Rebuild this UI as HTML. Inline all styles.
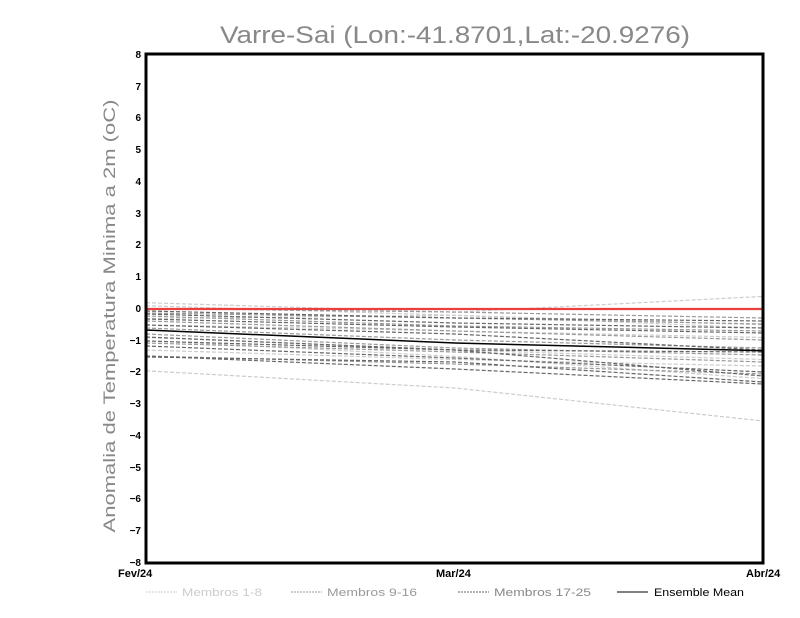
<!DOCTYPE html>
<html><head><style>body{margin:0;background:#fff}svg{display:block}</style></head><body>
<svg width="800" height="618" xmlns="http://www.w3.org/2000/svg" font-family="Liberation Sans, sans-serif">
<rect width="800" height="618" fill="#fff"/>
<text x="220" y="43" textLength="470" lengthAdjust="spacingAndGlyphs" font-size="24" fill="#888">Varre-Sai (Lon:-41.8701,Lat:-20.9276)</text>
<text transform="translate(115,316) rotate(-90)" text-anchor="middle" textLength="433" lengthAdjust="spacingAndGlyphs" font-size="17" fill="#888">Anomalia de Temperatura Minima a 2m (oC)</text>
<g fill="none" stroke-width="1.2" stroke-dasharray="4,2">
<g stroke="#ccc">
<polyline points="146,302.7 455,312.2 763,296.4"/>
<polyline points="146,370.8 455,388 763,421"/>
<polyline points="146,350 455,359.5 763,366"/>
<polyline points="146,318.5 455,315.3 763,324.8"/>
<polyline points="146,337.5 455,350 763,359.5"/>
<polyline points="146,324.8 455,331 763,337.5"/>
<polyline points="146,305.8 455,315.3 763,328"/>
<polyline points="146,340.5 455,356.4 763,378.6"/>
</g>
<g stroke="#999">
<polyline points="146,308.5 455,312 763,318"/>
<polyline points="146,313 455,318 763,324"/>
<polyline points="146,316 455,326 763,331"/>
<polyline points="146,321 455,331 763,340"/>
<polyline points="146,328 455,340 763,348"/>
<polyline points="146,334 455,348 763,355"/>
<polyline points="146,343 455,352 763,362"/>
<polyline points="146,356 455,364 763,374"/>
</g>
<g stroke="#666">
<polyline points="146,311 455,318 763,321"/>
<polyline points="146,314 455,323 763,328"/>
<polyline points="146,319 455,327 763,333"/>
<polyline points="146,325 455,334 763,350"/>
<polyline points="146,337 455,350 763,352"/>
<polyline points="146,341 455,350 763,376"/>
<polyline points="146,346 455,358 763,372"/>
<polyline points="146,357 455,362 763,382"/>
<polyline points="146,356 455,369 763,384"/>
</g>
</g>
<polyline points="146,330 455,343 763,350.7" fill="none" stroke="#000" stroke-width="1.5"/>
<line x1="146" y1="309" x2="763" y2="309" stroke="#e84040" stroke-width="2.2"/>
<rect x="146" y="54" width="617" height="509" fill="none" stroke="#000" stroke-width="3"/>
<g font-size="10" font-weight="bold" text-anchor="end" fill="#000">
<text x="141" y="58">8</text><text x="141" y="90">7</text><text x="141" y="121">6</text><text x="141" y="153">5</text><text x="141" y="185">4</text><text x="141" y="217">3</text><text x="141" y="248">2</text><text x="141" y="280">1</text><text x="141" y="312">0</text><text x="141" y="344">−1</text><text x="141" y="375">−2</text><text x="141" y="407">−3</text><text x="141" y="439">−4</text><text x="141" y="471">−5</text><text x="141" y="502">−6</text><text x="141" y="534">−7</text><text x="141" y="566">−8</text>
</g>
<g font-size="11" font-weight="bold" fill="#000">
<text x="118" y="577">Fev/24</text><text x="436" y="577">Mar/24</text><text x="746" y="577">Abr/24</text>
</g>
<g font-size="11">
<line x1="146" y1="592" x2="177" y2="592" stroke="#ccc" stroke-dasharray="2,1"/><text x="182" y="596" textLength="80" lengthAdjust="spacingAndGlyphs" fill="#ccc">Membros 1-8</text>
<line x1="291" y1="592" x2="322" y2="592" stroke="#999" stroke-dasharray="2,1"/><text x="327" y="596" textLength="90" lengthAdjust="spacingAndGlyphs" fill="#999">Membros 9-16</text>
<line x1="458" y1="592" x2="489" y2="592" stroke="#666" stroke-dasharray="2,1"/><text x="494" y="596" textLength="97" lengthAdjust="spacingAndGlyphs" fill="#888">Membros 17-25</text>
<line x1="617" y1="592" x2="648" y2="592" stroke="#000"/><text x="654" y="596" textLength="90" lengthAdjust="spacingAndGlyphs" fill="#000">Ensemble Mean</text>
</g>
</svg>
</body></html>
